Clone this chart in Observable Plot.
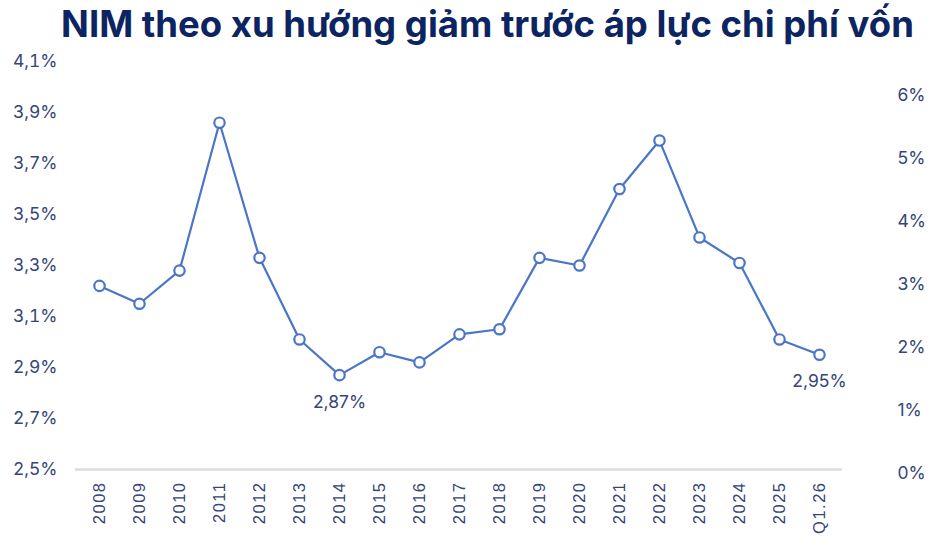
<!DOCTYPE html>
<html>
<head>
<meta charset="utf-8">
<script src="https://cdn.jsdelivr.net/npm/d3@7"></script>
<script src="https://cdn.jsdelivr.net/npm/@observablehq/plot@0.6"></script>
<style>
  html, body { margin: 0; padding: 0; background: #ffffff; }
  #title {
    box-sizing: border-box; width: 942px; height: 44px; line-height: 48px; text-align: center;
    padding-left: 33px; overflow: visible;
    font-family: Inter, "Noto Sans", sans-serif; font-weight: 700; font-size: 36.5px;
    color: #0c2461; white-space: nowrap;
  }
  #chart svg { display: block; }
  g[aria-label="x-axis tick label"] text { letter-spacing: 1.5px; }
</style>
</head>
<body>
<div id="title">NIM theo xu hướng giảm trước áp lực chi phí vốn</div>
<div id="chart"></div>
<script>
const periods = ["2008","2009","2010","2011","2012","2013","2014","2015","2016","2017","2018","2019","2020","2021","2022","2023","2024","2025","Q1.26"];
const nim = [3.22, 3.15, 3.28, 3.86, 3.33, 3.01, 2.87, 2.96, 2.92, 3.03, 3.05, 3.33, 3.30, 3.60, 3.79, 3.41, 3.31, 3.01, 2.95];
const leftTicks = [2.5, 2.7, 2.9, 3.1, 3.3, 3.5, 3.7, 3.9, 4.1];
const rightTicks = [0, 1, 2, 3, 4, 5, 6];
const annotated = ["2014", "Q1.26"];

const data = periods.map((p, i) => ({period: p, value: nim[i]}));
const notes = data.filter(d => annotated.includes(d.period));
// right axis (0%–6%) drawn against the left scale: 0% ≈ 2.484, each 1% ≈ 0.2472 on the left scale
const rightToLeft = v => 2.484 + v * 0.2472;
const fmtLeft = d => d.toFixed(1).replace(".", ",") + "%";
const fmtNote = d => d.toFixed(2).replace(".", ",") + "%";

const lineColor = "#4b75c6";
const textColor = "#36457a";

const chart = Plot.plot({
  width: 942,
  height: 505,
  marginTop: 17,
  marginBottom: 80,
  marginLeft: 75,
  marginRight: 100,
  style: {fontFamily: "Inter, 'Noto Sans', sans-serif", color: textColor, background: "#ffffff"},
  x: {type: "band", domain: periods, padding: 0, axis: null},
  y: {domain: [2.5, 4.1], axis: null},
  marks: [
    Plot.ruleY([2.5], {stroke: "#dcdcdc", strokeWidth: 2.5}),
    Plot.axisX({tickRotate: -90, tickSize: 0, tickPadding: 12, label: null, fontSize: 16.5, fontFamily: "'Liberation Sans', Arial, sans-serif", fill: textColor}),
    Plot.axisY(leftTicks, {anchor: "left", tickSize: 0, tickPadding: 18, label: null, tickFormat: fmtLeft, fontSize: 17.5, fill: textColor}),
    Plot.text(rightTicks, {frameAnchor: "right", y: d => rightToLeft(d), text: d => d + "%", textAnchor: "start", dx: 55, fontSize: 17.5, fill: textColor}),
    Plot.line(data, {x: "period", y: "value", stroke: lineColor, strokeWidth: 2.2}),
    Plot.dot(data, {x: "period", y: "value", r: 5.2, fill: "#ffffff", stroke: lineColor, strokeWidth: 2.2}),
    Plot.text(notes, {x: "period", y: "value", text: d => fmtNote(d.value), dy: 27, fontSize: 17.5, fill: textColor})
  ]
});
document.getElementById("chart").appendChild(chart);
</script>
</body>
</html>
